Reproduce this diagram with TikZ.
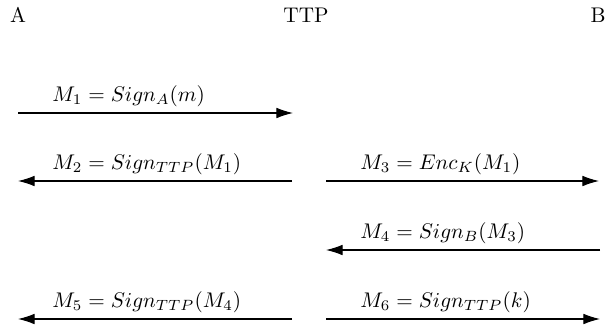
\documentclass[tikz,border=0pt]{standalone}
\usetikzlibrary{arrows.meta}
\begin{document}
\begin{tikzpicture}[x=0.4717pt,y=-0.4717pt,
  msg/.style={line width=0.5pt,-{Latex[length=7.8pt,width=5pt]}},
  party/.style={anchor=base,inner sep=0pt},
  lbl/.style={anchor=base west,inner sep=0pt}]
\useasboundingbox (0,0) rectangle (606,329);
\node[party] (A) at (18,22) {A};
\node[party] (T) at (306,22) {TTP};
\node[party] (B) at (598,22) {B};
% row coordinates
\coordinate (l1) at (18,113);  \coordinate (r1) at (293,113);
\coordinate (l2) at (18,181);  \coordinate (r2) at (292,181);
\coordinate (l3) at (326,181); \coordinate (r3) at (599,181);
\coordinate (l4) at (326,250); \coordinate (r4) at (600,250);
\coordinate (l5) at (18,319);  \coordinate (r5) at (292,319);
\coordinate (l6) at (326,319); \coordinate (r6) at (600,319);
\draw[msg] (l1) -- (r1);
\draw[msg] (r2) -- (l2);
\draw[msg] (l3) -- (r3);
\draw[msg] (r4) -- (l4);
\draw[msg] (r5) -- (l5);
\draw[msg] (l6) -- (r6);
\node[lbl] (m1) at (52,101) {$M_1 = Sign_A(m)$};
\node[lbl] (m2) at (52,169) {$M_2 = Sign_{TTP}(M_1)$};
\node[lbl] (m3) at (360,169) {$M_3 = Enc_K(M_1)$};
\node[lbl] (m4) at (360,238) {$M_4 = Sign_B(M_3)$};
\node[lbl] (m5) at (52,307) {$M_5 = Sign_{TTP}(M_4)$};
\node[lbl] (m6) at (360,307) {$M_6 = Sign_{TTP}(k)$};
\end{tikzpicture}
\end{document}
